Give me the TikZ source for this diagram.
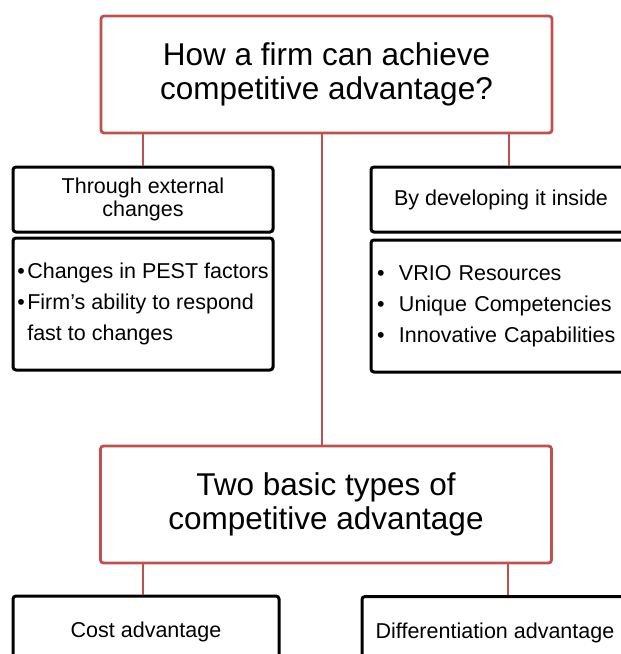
\documentclass[tikz,border=0pt]{standalone}
\usepackage{fontspec}
\setmainfont{Liberation Sans}
\usepackage{xcolor}
\usetikzlibrary{positioning,calc}
\definecolor{boxred}{RGB}{192,80,77}
\tikzset{
  basic/.style   = {draw, rectangle, inner sep=0pt, align=center},
  root/.style    = {basic, draw=boxred, line width=2.8pt, rounded corners=3pt,
                    minimum width=451pt, minimum height=117pt,
                    font=\fontsize{31.5}{34}\selectfont},
  branch/.style  = {basic, line width=3pt, rounded corners=3pt,
                    minimum width=260pt, minimum height=65pt,
                    font=\fontsize{21.5}{23.5}\selectfont},
  detail/.style  = {basic, line width=3pt, rounded corners=3pt, align=left,
                    minimum width=260pt, minimum height=132pt,
                    font=\fontsize{21.5}{31}\selectfont},
  outcome/.style = {basic, line width=3pt, rounded corners=3pt,
                    minimum width=266pt, minimum height=72pt,
                    font=\fontsize{21.5}{23.5}\selectfont},
  link/.style    = {draw=boxred, line width=2.8pt}
}
\newcommand{\bul}[1]{\makebox[#1][l]{\textbullet}}

\begin{document}
\begin{tikzpicture}[x=1pt,y=1pt]
  \useasboundingbox (0,0) rectangle (621,-654);
  \node[root] (how) at (326.5,-74.5) {How a firm can achieve\\competitive advantage?};
  \node[branch] (external) at (143,-199.5) {Through external\\changes};
  \node[detail] (pest) at (143,-304)
    {\bul{10pt}Changes in PEST factors\\\bul{10pt}Firm’s ability to respond\\\hspace*{10pt}fast to changes};
  \node[branch] (inside) at (501,-199.5) {By developing it inside};
  \node[detail, text width=248pt, inner xsep=6pt] (vrio) at (501,-306)
    {\bul{22pt}VRIO Resources\\\bul{22pt}Unique Competencies\\\bul{22pt}Innovative Capabilities};
  \node[root] (types) at (326,-504.5) {Two basic types of\\competitive advantage};
  \node[outcome] (cost) at (146,-632) {Cost advantage};
  \node[outcome] (diff) at (495,-632.5) {Differentiation advantage};
  % connectors
  \draw[link] ([xshift=-183.5pt]how.south) -- ([xshift=-183.5pt]how.south |- external.north);
  \draw[link] ([xshift=182.5pt]how.south) -- ([xshift=182.5pt]how.south |- inside.north);
  \draw[link] ([xshift=-4.5pt]how.south) -- ([xshift=-4.5pt]how.south |- types.north);
  \draw[link] ([xshift=-183pt]types.south) -- ([xshift=-183pt]types.south |- cost.north);
  \draw[link] ([xshift=182pt]types.south) -- ([xshift=182pt]types.south |- diff.north);
\end{tikzpicture}
\end{document}
